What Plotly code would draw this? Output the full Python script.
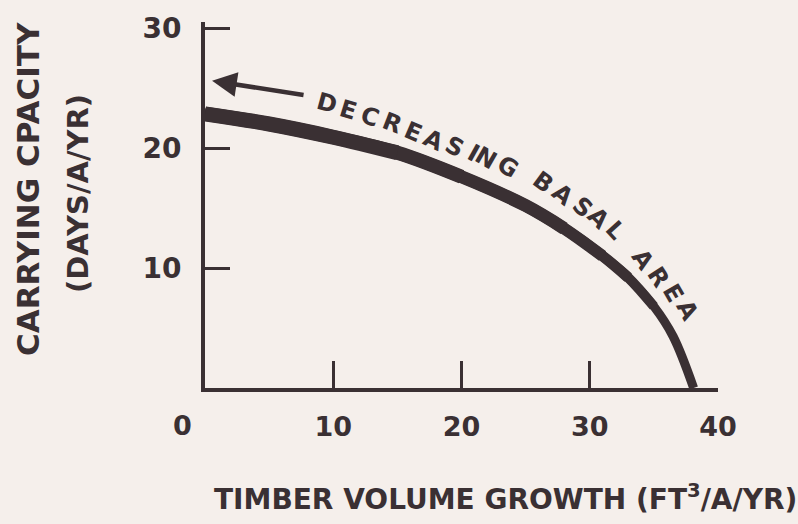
import plotly.graph_objects as go

# ---- data ----
growth = [0, 5, 10, 15, 20, 25, 28, 31, 33, 35, 36.5, 38.1]                  # ft3/A/yr
capacity = [22.85, 22.0, 20.9, 19.6, 17.6, 15.2, 13.3, 11.0, 9.2, 6.8, 4.3, 0]  # days/A/yr

x_ticks = [10, 20, 30, 40]
y_ticks = [10, 20, 30]

curve_label = "DECREASING BASAL AREA"
# per-letter anchor (data coords) and rotation for the curved label
label_x = [9.51, 11.15, 12.87, 14.58, 16.22, 17.78, 19.49, 20.9, 21.9, 23.62,
           None,
           26.35, 27.91, 29.4, 30.65, 31.97,
           None,
           34.15, 35.33, 36.5, 37.59]
label_y = [23.75, 23.17, 22.58, 22.08, 21.33, 20.67, 20.08, 19.58, 19.17, 18.42,
           None,
           17.17, 16.08, 15.08, 14.17, 13.17,
           None,
           10.67, 9.25, 7.92, 6.5]
label_angle = [15, 17, 19, 21, 23, 25, 27, 29, 30, 32,
               None,
               36, 39, 42, 45, 48,
               None,
               55, 57, 60, 62]

arrow_tip = (0.55, 25.6)
arrow_tail = (7.8, 24.4)

# ---- style ----
INK = "#3a3033"
BG = "#f5efeb"
FONT = "DejaVu Sans"
W, H = 798, 524
PLOT_L, PLOT_T, PLOT_W, PLOT_H = 205, 22, 513, 366


def px_to_paper(px, py):
    return (px - PLOT_L) / PLOT_W, 1 - (py - PLOT_T) / PLOT_H


fig = go.Figure()
# thick hand-drawn curve, tapering toward the x axis
for upto, width in [(len(growth), 9), (10, 10), (9, 11), (8, 12), (7, 13), (5, 14), (4, 15)]:
    fig.add_trace(go.Scatter(
        x=growth[:upto], y=capacity[:upto], mode="lines",
        line=dict(color=INK, width=width, shape="spline"),
        hoverinfo="skip", showlegend=False,
    ))

annotations = []
for ch, lx, ly, la in zip(curve_label, label_x, label_y, label_angle):
    if ch == " ":
        continue
    annotations.append(dict(
        x=lx, y=ly, xref="x", yref="y", text=ch, showarrow=False,
        textangle=la, xanchor="center", yanchor="middle",
        font=dict(family=FONT, size=24, color=INK, weight="bold"),
    ))

# arrow pointing to the axis
annotations.append(dict(
    x=arrow_tip[0], y=arrow_tip[1], ax=arrow_tail[0], ay=arrow_tail[1],
    xref="x", yref="y", axref="x", ayref="y", text="",
    showarrow=True, arrowhead=2, arrowsize=1.1, arrowwidth=4.5,
    arrowcolor=INK, standoff=0, startstandoff=0,
))

# origin "0" label
annotations.append(dict(
    x=0, y=0, xref="x", yref="y", text="0", showarrow=False,
    xshift=-23, yshift=-37, xanchor="center", yanchor="middle",
    font=dict(family=FONT, size=27, color=INK, weight="bold"),
))

# axis titles
tx, ty = px_to_paper(505, 497)
annotations.append(dict(
    x=tx, y=ty, xref="paper", yref="paper",
    text="TIMBER VOLUME GROWTH (FT<sup>3</sup>/A/YR)", showarrow=False,
    xanchor="center", yanchor="middle",
    font=dict(family=FONT, size=28, color=INK, weight="bold"),
))
tx, ty = px_to_paper(28, 189)
annotations.append(dict(
    x=tx, y=ty, xref="paper", yref="paper",
    text="CARRYING CPACITY", showarrow=False, textangle=-90,
    xanchor="center", yanchor="middle",
    font=dict(family=FONT, size=31, color=INK, weight="bold"),
))
tx, ty = px_to_paper(78, 194)
annotations.append(dict(
    x=tx, y=ty, xref="paper", yref="paper",
    text="(DAYS/A/YR)", showarrow=False, textangle=-90,
    xanchor="center", yanchor="middle",
    font=dict(family=FONT, size=29, color=INK, weight="bold"),
))

fig.update_layout(
    width=W, height=H,
    margin=dict(l=PLOT_L, r=W - PLOT_L - PLOT_W, t=PLOT_T, b=H - PLOT_T - PLOT_H),
    paper_bgcolor=BG, plot_bgcolor=BG,
    showlegend=False,
    annotations=annotations,
    xaxis=dict(
        range=[0, 40], tickvals=x_ticks, ticktext=[str(v) for v in x_ticks],
        showgrid=False, zeroline=False, showline=True, linecolor=INK, linewidth=4,
        ticks="inside", ticklen=27, tickwidth=3, tickcolor=INK,
        ticklabelstandoff=12, automargin=False,
        tickfont=dict(family=FONT, size=27, color=INK, weight="bold"),
        fixedrange=True,
    ),
    yaxis=dict(
        range=[0, 30.5], tickvals=y_ticks, ticktext=[str(v) for v in y_ticks],
        showgrid=False, zeroline=False, showline=True, linecolor=INK, linewidth=4,
        ticks="inside", ticklen=25, tickwidth=3, tickcolor=INK,
        ticklabelstandoff=14, automargin=False,
        tickfont=dict(family=FONT, size=28, color=INK, weight="bold"),
        fixedrange=True,
    ),
)

fig.write_html(
    "out.html",
    config={"displayModeBar": False, "staticPlot": True},
    post_script="document.body.style.margin='0';document.body.style.overflow='hidden';"
                "document.body.style.background='" + BG + "';",
)
